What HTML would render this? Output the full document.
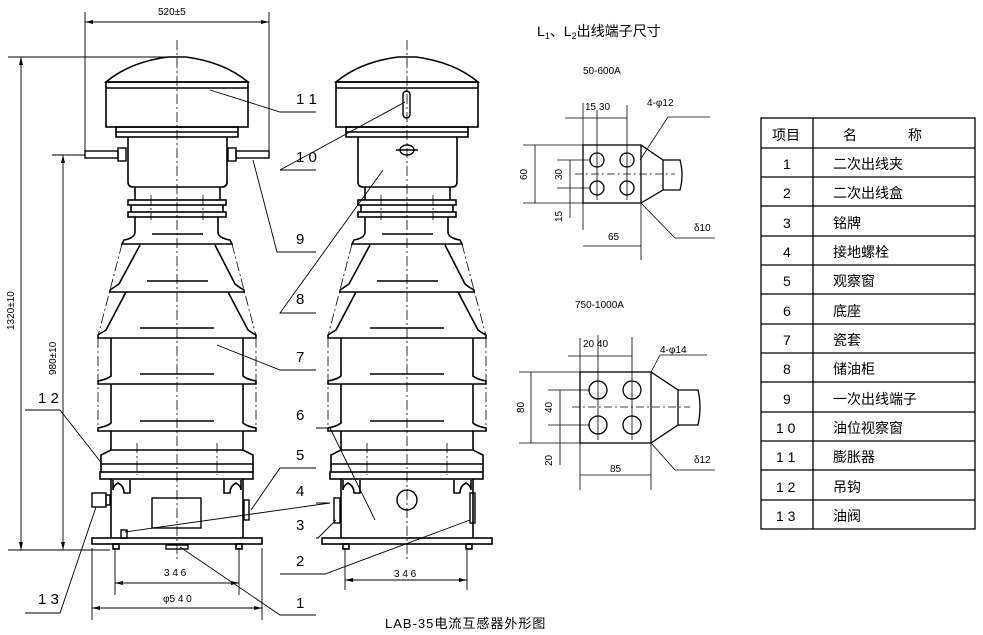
<!DOCTYPE html>
<html><head><meta charset="utf-8"><style>
html,body{margin:0;padding:0;background:#fff;width:983px;height:635px;overflow:hidden}
svg{display:block}
text{font-family:"Liberation Sans","Noto Sans CJK SC",sans-serif;fill:#000}
</style></head><body>
<svg width="983" height="635" viewBox="0 0 983 635" xmlns="http://www.w3.org/2000/svg">
<defs>
<g id="body" fill="none" stroke="#000" stroke-width="1.6">
  <!-- dome + cap -->
  <path d="M106 82 Q130 62 168 57 L186 57 Q224 62 248 82 Z"/>
  <rect x="106" y="82" width="142" height="45"/>
  <line x1="106" y1="88" x2="248" y2="88"/>
  <rect x="116" y="127" width="122" height="10"/>
  <line x1="116" y1="132" x2="238" y2="132"/>
  <path d="M128 137 L128 182 Q128 187 133 187 L222 187 Q227 187 227 182 L227 137"/>
  <!-- neck rings -->
  <path d="M135 187 L135 200 M220 187 L220 200"/>
  <rect x="128" y="200" width="98" height="5"/>
  <rect x="128" y="212" width="98" height="5"/>
  <path d="M131 205 L131 212 M223 205 L223 212"/>
  <path d="M135 217 L135 232 Q135 238 124 240 L122 244 L232 244 L230 240 Q218 238 218 232 L218 217"/>
  <!-- shed1 -->
  <path d="M140 245 L119 284 Q113 288 110 290 L110 292 L244 292 L244 290 Q240 288 235 284 L215 245"/>
  <!-- shed2 -->
  <path d="M126 292 L106 330 Q101 333 98 335 L98 338 L256 338 L256 335 Q252 333 248 330 L228 292"/>
  <!-- straight sheds -->
  <path d="M111 338 L111 376 Q108 379 98 381 L98 384 L256 384 L256 381 Q246 379 243 376 L243 338"/>
  <path d="M111 384 L111 423 Q108 426 98 428 L98 431 L256 431 L256 428 Q246 426 243 423 L243 384"/>
  <path d="M111 431 L111 450"/><path d="M243 431 L243 450"/>
  <path d="M111 450 L101 455 L101 464 L253 464 L253 455 L243 450 Z"/>
  <rect x="100" y="472" width="153" height="7"/>
  <line x1="101" y1="464" x2="101" y2="472"/><line x1="253" y1="464" x2="253" y2="472"/>
  <!-- base box -->
  <path d="M111 479 L111 538 M243 479 L243 538"/>
  <path d="M113 480 L113 490 Q113 486 118 483 Q124 486 124 493 L130 493 L130 480"/>
  <path d="M224 480 L224 493 L230 493 Q230 486 236 483 Q241 486 241 490 L241 480"/>
  <rect x="92" y="538" width="170" height="6"/>
  <rect x="113" y="544" width="6" height="5"/><rect x="236" y="544" width="6" height="5"/>
  <!-- centre dashes -->
  <g stroke-width="1.4">
    <line x1="152" y1="234" x2="203" y2="234"/><line x1="147" y1="281" x2="208" y2="281"/>
    <line x1="140" y1="328" x2="214" y2="328"/><line x1="140" y1="374" x2="214" y2="374"/>
    <line x1="140" y1="421" x2="214" y2="421"/>
  </g>
  <g stroke-width="0.8" stroke-dasharray="10 3 2 3">
    <line x1="177" y1="40" x2="177" y2="560"/>
    <line x1="122" y1="244" x2="98" y2="336"/><line x1="232" y1="244" x2="256" y2="336"/>
    <line x1="98" y1="338" x2="98" y2="430"/><line x1="256" y1="338" x2="256" y2="430"/>
    <line x1="151" y1="195" x2="151" y2="220"/><line x1="203" y1="195" x2="203" y2="220"/>
    <line x1="137" y1="443" x2="137" y2="475"/><line x1="217" y1="443" x2="217" y2="475"/>
  </g>
</g>
</defs>

<use href="#body"/>
<use href="#body" transform="translate(230,0)"/>

<g fill="none" stroke="#000" stroke-width="1.4">
  <!-- left specifics -->
  <rect x="85" y="151" width="33" height="7"/><rect x="118" y="148" width="8" height="13"/>
  <rect x="228" y="148" width="8" height="13"/><rect x="236" y="151" width="33" height="7"/>
  <rect x="92" y="493" width="14" height="14"/><rect x="106" y="495" width="4" height="10"/>
  <rect x="152" y="498" width="49" height="30"/>
  <rect x="244" y="500" width="5" height="20"/>
  <rect x="121" y="530" width="6" height="8"/>
  <rect x="166" y="545" width="22" height="4"/>
  <!-- right specifics -->
  <rect x="403" y="91" width="7" height="27" rx="3.5"/>
  <ellipse cx="407" cy="150" rx="7" ry="5"/><line x1="396" y1="150" x2="418" y2="150"/>
  <circle cx="407" cy="500" r="10"/>
  <rect x="334" y="498" width="6" height="25"/>
  <rect x="470" y="493" width="5" height="30"/>
</g>

<!-- dimensions -->
<g stroke="#000" stroke-width="0.9" fill="none">
  <line x1="85" y1="12" x2="85" y2="155"/><line x1="269" y1="12" x2="269" y2="155"/>
  <line x1="85" y1="22" x2="269" y2="22"/>
  <line x1="8" y1="57" x2="170" y2="57"/><line x1="21" y1="57" x2="21" y2="550"/>
  <line x1="52" y1="155" x2="85" y2="155"/><line x1="63" y1="155" x2="63" y2="550"/>
  <line x1="8" y1="550" x2="110" y2="550"/>
  <line x1="115" y1="548" x2="115" y2="595"/><line x1="239" y1="548" x2="239" y2="595"/>
  <line x1="115" y1="583" x2="239" y2="583"/>
  <line x1="92" y1="548" x2="92" y2="620"/><line x1="262" y1="548" x2="262" y2="620"/>
  <line x1="92" y1="608" x2="262" y2="608"/>
  <line x1="345" y1="548" x2="345" y2="590"/><line x1="467" y1="548" x2="467" y2="590"/>
  <line x1="345" y1="580" x2="467" y2="580"/>
  <!-- leaders -->
  <polyline points="210,90 280,112 316,112"/>
  <polyline points="405,102 280,170 316,170"/>
  <polyline points="253,160 277,252 316,252"/>
  <polyline points="383,170 280,313 316,313"/>
  <polyline points="217,345 280,370 316,370"/>
  <polyline points="375,520 330,428 316,428"/>
  <polyline points="251,510 280,468 316,468"/>
  <polyline points="125,532 330,503 316,503"/>
  <polyline points="336,520 318,538 316,538"/>
  <polyline points="470,520 325,574 280,574"/>
  <polyline points="180,547 280,615 316,615"/>
  <polyline points="25,410 60,410 103,465"/>
  <polyline points="25,613 60,613 96,507"/>
</g>
<g fill="#000">
  <path d="M85 22 l8 -2 v4z M269 22 l-8 -2 v4z M21 57 l-2 8 h4z M21 550 l-2 -8 h4z M63 155 l-2 8 h4z M63 550 l-2 -8 h4z"/>
  <path d="M115 583 l8 -2 v4z M239 583 l-8 -2 v4z M92 608 l8 -2 v4z M262 608 l-8 -2 v4z M345 580 l8 -2 v4z M467 580 l-8 -2 v4z"/>
</g>
<g font-size="15">
  <text x="296" y="104">1 1</text><text x="296" y="162">1 0</text><text x="296" y="244">9</text>
  <text x="296" y="304">8</text><text x="296" y="362">7</text><text x="296" y="420">6</text>
  <text x="296" y="460">5</text><text x="296" y="496">4</text><text x="296" y="530">3</text>
  <text x="296" y="566">2</text><text x="296" y="608">1</text>
  <text x="38" y="403">1 2</text><text x="38" y="604">1 3</text>
</g>
<g font-size="10">
  <text x="158" y="15">520±5</text>
  <text x="164" y="576">3 4 6</text><text x="394" y="577">3 4 6</text>
  <text x="163" y="602">φ5 4 0</text>
  <text transform="translate(14,330) rotate(-90)">1320±10</text>
  <text transform="translate(56,375) rotate(-90)">980±10</text>
</g>

<!-- terminals -->
<g fill="none" stroke="#000" stroke-width="1.3">
  <rect x="583" y="145" width="58" height="58"/>
  <polyline points="641,145 663,160 663,190 641,203"/>
  <path d="M663 160 H680 Q684 175 680 190 H663"/>
  <circle cx="597" cy="160" r="7"/><circle cx="627" cy="160" r="7"/>
  <circle cx="597" cy="188" r="7"/><circle cx="627" cy="188" r="7"/>
  <rect x="580" y="372" width="71" height="71"/>
  <polyline points="651,372 678,390 678,425 651,443"/>
  <path d="M678 390 H698 Q702 407 698 425 H678"/>
  <circle cx="598" cy="390" r="9"/><circle cx="632" cy="390" r="9"/>
  <circle cx="598" cy="425" r="9"/><circle cx="632" cy="425" r="9"/>
</g>
<g fill="none" stroke="#000" stroke-width="0.8">
  <line x1="583" y1="103" x2="583" y2="230"/><line x1="597" y1="110" x2="597" y2="200"/>
  <line x1="627" y1="105" x2="627" y2="200"/><line x1="641" y1="200" x2="641" y2="260"/>
  <line x1="565" y1="118" x2="627" y2="118"/>
  <line x1="523" y1="145" x2="583" y2="145"/><line x1="523" y1="203" x2="583" y2="203"/>
  <line x1="535" y1="145" x2="535" y2="203"/>
  <line x1="557" y1="160" x2="590" y2="160"/><line x1="557" y1="188" x2="590" y2="188"/>
  <line x1="570" y1="160" x2="570" y2="218"/>
  <line x1="583" y1="246" x2="641" y2="246"/>
  <line x1="640" y1="160" x2="668" y2="117" /><line x1="668" y1="117" x2="710" y2="117"/>
  <line x1="641" y1="203" x2="675" y2="238"/><line x1="675" y1="238" x2="715" y2="238"/>
  <line x1="580" y1="338" x2="580" y2="490"/><line x1="598" y1="335" x2="598" y2="440"/>
  <line x1="632" y1="337" x2="632" y2="440"/><line x1="651" y1="440" x2="651" y2="490"/>
  <line x1="568" y1="356" x2="632" y2="356"/>
  <line x1="519" y1="372" x2="580" y2="372"/><line x1="519" y1="443" x2="580" y2="443"/>
  <line x1="531" y1="372" x2="531" y2="443"/>
  <line x1="548" y1="390" x2="590" y2="390"/><line x1="548" y1="425" x2="590" y2="425"/>
  <line x1="560" y1="390" x2="560" y2="465"/>
  <line x1="580" y1="475" x2="651" y2="475"/>
  <line x1="651" y1="372" x2="660" y2="355"/><line x1="660" y1="355" x2="707" y2="355"/>
  <line x1="651" y1="443" x2="675" y2="470"/><line x1="675" y1="470" x2="715" y2="470"/>
  <g stroke-dasharray="8 3 2 3"><line x1="575" y1="174" x2="675" y2="174"/><line x1="572" y1="407" x2="690" y2="407"/></g>
</g>
<g font-size="10">
  <text x="583" y="74">50-600A</text><text x="585" y="110">15  30</text>
  <text x="647" y="106">4-φ12</text><text x="694" y="231">δ10</text><text x="608" y="240">65</text>
  <text transform="translate(527,180) rotate(-90)">60</text>
  <text transform="translate(562,180) rotate(-90)">30</text>
  <text transform="translate(562,222) rotate(-90)">15</text>
  <text x="575" y="308">750-1000A</text><text x="583" y="347">20  40</text>
  <text x="660" y="353">4-φ14</text><text x="694" y="463">δ12</text><text x="610" y="472">85</text>
  <text transform="translate(524,413) rotate(-90)">80</text>
  <text transform="translate(552,413) rotate(-90)">40</text>
  <text transform="translate(552,466) rotate(-90)">20</text>
</g>
<text x="537" y="36" font-size="14">L<tspan font-size="9" dy="3">1</tspan><tspan dy="-3">、L</tspan><tspan font-size="9" dy="3">2</tspan><tspan dy="-3">出线端子尺寸</tspan></text>
<text x="385" y="628" font-size="13" letter-spacing="1">LAB-35电流互感器外形图</text>

<!-- table -->
<g fill="none" stroke="#000" stroke-width="1.3">
  <rect x="761" y="118" width="214" height="411"/>
  <line x1="813" y1="118" x2="813" y2="529"/>
  <line x1="761" y1="148" x2="975" y2="148"/>
  <line x1="761" y1="177" x2="975" y2="177"/><line x1="761" y1="206" x2="975" y2="206"/>
  <line x1="761" y1="236" x2="975" y2="236"/><line x1="761" y1="265" x2="975" y2="265"/>
  <line x1="761" y1="294" x2="975" y2="294"/><line x1="761" y1="324" x2="975" y2="324"/>
  <line x1="761" y1="353" x2="975" y2="353"/><line x1="761" y1="382" x2="975" y2="382"/>
  <line x1="761" y1="412" x2="975" y2="412"/><line x1="761" y1="441" x2="975" y2="441"/>
  <line x1="761" y1="470" x2="975" y2="470"/><line x1="761" y1="500" x2="975" y2="500"/>
</g>
<g font-size="14">
  <text x="772" y="140">项目</text><text x="843" y="140">名</text><text x="908" y="140">称</text>
  <text x="783" y="169">1</text><text x="833" y="169">二次出线夹</text>
  <text x="783" y="198">2</text><text x="833" y="198">二次出线盒</text>
  <text x="783" y="228">3</text><text x="833" y="228">铭牌</text>
  <text x="783" y="257">4</text><text x="833" y="257">接地螺栓</text>
  <text x="783" y="286">5</text><text x="833" y="286">观察窗</text>
  <text x="783" y="316">6</text><text x="833" y="316">底座</text>
  <text x="783" y="345">7</text><text x="833" y="345">瓷套</text>
  <text x="783" y="374">8</text><text x="833" y="374">储油柜</text>
  <text x="783" y="404">9</text><text x="833" y="404">一次出线端子</text>
  <text x="776" y="433">1 0</text><text x="833" y="433">油位视察窗</text>
  <text x="776" y="462">1 1</text><text x="833" y="462">膨胀器</text>
  <text x="776" y="492">1 2</text><text x="833" y="492">吊钩</text>
  <text x="776" y="521">1 3</text><text x="833" y="521">油阀</text>
</g>
</svg>
</body></html>
